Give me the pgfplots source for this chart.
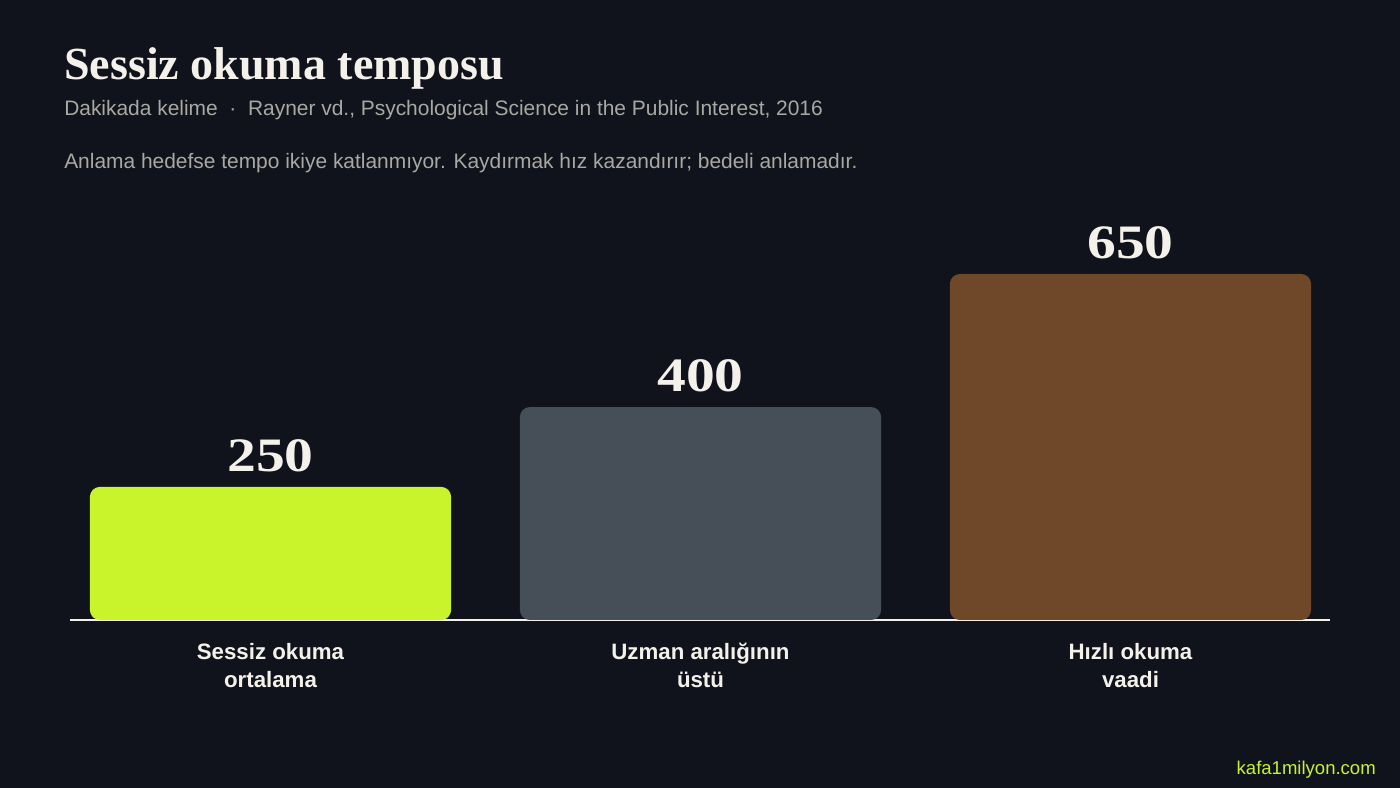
\documentclass[border=0pt]{standalone}
\usepackage{pgfplots}
\pgfplotsset{compat=1.18}
\usepackage{fontspec}
\setmainfont{Liberation Sans}
\newfontfamily\serifb{Liberation Serif}
\newfontfamily\serifw[FakeStretch=1.2]{Liberation Serif}
\definecolor{bg}{HTML}{10131B}
\definecolor{lime}{HTML}{C9F42C}
\definecolor{slate}{HTML}{464E57}
\definecolor{brown}{HTML}{6F4829}
\definecolor{cream}{HTML}{F4F1EA}
\definecolor{subg}{HTML}{A9A8A2}
\begin{document}
\begin{tikzpicture}
\fill[bg] (0,0) rectangle (1050pt,591pt);
\begin{scope}[x=0.75pt,y=0.75pt]
\node[anchor=base west,inner sep=0pt,text=cream,font=\serifb\bfseries\fontsize{34.5}{38}\selectfont] at (64,708) {Sessiz okuma temposu};
\node[anchor=base west,inner sep=0pt,text=subg,font=\fontsize{15.7}{18}\selectfont] at (64,672) {Dakikada kelime \ \textperiodcentered\ \ Rayner vd., Psychological Science in the Public Interest, 2016};
\node[anchor=base west,inner sep=0pt,text=subg,font=\fontsize{15.7}{18}\selectfont] at (64,619) {Anlama hedefse tempo ikiye katlanmıyor. Kaydırmak hız kazandırır; bedeli anlamadır.};
\node[anchor=base east,inner sep=0pt,text=lime,font=\fontsize{13.9}{16}\selectfont] at (1376,13) {kafa1milyon.com};
\end{scope}
\begin{axis}[
  at={(52.5pt,126pt)}, anchor=south west,
  scale only axis, width=945pt, height=315pt,
  xmin=-0.4663, xmax=2.464, ymin=0, ymax=789,
  axis x line*=bottom, axis y line=none,
  x axis line style={cream, line width=1.2pt, -},
  xtick={0,1,2}, major tick length=0pt,
  xticklabels={{Sessiz okuma\\ortalama},{Uzman aralığının\\üstü},{Hızlı okuma\\vaadi}},
  xticklabel style={align=center, text=cream, font=\bfseries\fontsize{16.7}{21}\selectfont, inner sep=0pt, yshift=-17pt},
  ytick=\empty,
  /pgf/number format/assume math mode=true,
  ybar, bar width=0.84, bar shift=0pt,
  nodes near coords,
  every node near coord/.append style={anchor=base, inner sep=0pt, yshift=11.5pt, text=cream, font=\serifw\bfseries\fontsize{36}{40}\selectfont},
  clip=false,
]
\addplot[fill=lime, draw=none, rounded corners=7.5pt] coordinates {(0,250)};
\addplot[fill=slate, draw=none, rounded corners=7.5pt] coordinates {(1,400)};
\addplot[fill=brown, draw=none, rounded corners=7.5pt] coordinates {(2,650)};
\end{axis}
\end{tikzpicture}
\end{document}
